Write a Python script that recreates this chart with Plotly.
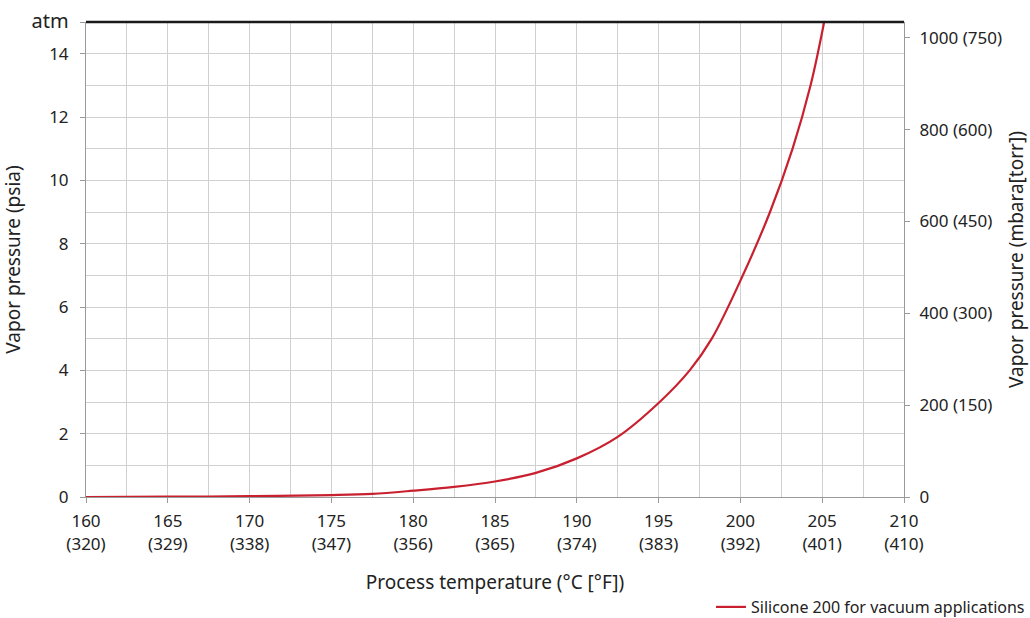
import plotly.graph_objects as go

# Data
temp_c = [160, 165, 170, 175, 177.5, 180, 182.5, 185, 187.5, 190, 192.5, 195,
          196.9, 198.25, 200.15, 201.81, 203.19, 204.29, 205.12]
psia = [0.0, 0.01, 0.025, 0.06, 0.1, 0.2, 0.32, 0.49, 0.76, 1.22, 1.9, 2.97,
        4.0, 5.0, 7.0, 9.0, 11.0, 13.0, 15.0]

x_ticks = [160, 165, 170, 175, 180, 185, 190, 195, 200, 205, 210]
x_tick_f = [320, 329, 338, 347, 356, 365, 374, 383, 392, 401, 410]
x_minor = [162.5, 167.5, 172.5, 177.5, 182.5, 187.5, 192.5, 197.5, 202.5, 207.5]
y_ticks = [0, 2, 4, 6, 8, 10, 12, 14, 15]
y_labels = ["0", "2", "4", "6", "8", "10", "12", "14",
            "<span style='font-size:20px'>atm</span>"]
y_minor = [1, 3, 5, 7, 9, 11, 13]
mbar_ticks = [0, 200, 400, 600, 800, 1000]
mbar_labels = ["0", "200 (150)", "400 (300)", "600 (450)", "800 (600)", "1000 (750)"]

PSI_TO_MBAR = 68.9476
y_max = 15

FONT = "Noto Sans"
TXT = "#222222"
GRID = "#d0d0d0"
AX = "#9a9a9a"
RED = "#c8202f"

fig = go.Figure()
fig.add_trace(go.Scatter(
    x=temp_c, y=psia, mode="lines", name="Silicone 200 for vacuum applications",
    line=dict(color=RED, width=2.2, shape="spline", smoothing=1.0),
    cliponaxis=True,
))
# invisible trace to activate right axis
fig.add_trace(go.Scatter(x=[160], y=[0], yaxis="y2", mode="lines",
                         line=dict(color="rgba(0,0,0,0)"), showlegend=False,
                         hoverinfo="skip"))

fig.update_layout(
    width=1030, height=618,
    margin=dict(l=86, r=126, t=22, b=121, autoexpand=False),
    paper_bgcolor="white", plot_bgcolor="white",
    font=dict(family=FONT, size=17, color=TXT),
    showlegend=True,
    legend=dict(orientation="h", x=1.154, xanchor="right", y=-0.2316, yanchor="middle",
                font=dict(size=16, color=TXT), bgcolor="rgba(0,0,0,0)",
                itemwidth=30, tracegroupgap=0),
    xaxis=dict(
        range=[160, 210], tickmode="array", tickvals=x_ticks,
        ticktext=[f"{c}<br>({f})" for c, f in zip(x_ticks, x_tick_f)],
        showgrid=True, gridcolor=GRID, gridwidth=1,
        minor=dict(tickmode="array", tickvals=x_minor, showgrid=True, gridcolor=GRID, gridwidth=1),
        showline=True, linecolor=AX, linewidth=1,
        ticks="outside", ticklen=5, tickcolor=AX, ticklabelstandoff=4,
        tickfont=dict(size=17, color=TXT), zeroline=False, automargin=False,
        ticklabeloverflow="allow",
        title=dict(text="Process temperature (°C [°F])", font=dict(size=19, color=TXT), standoff=22),
    ),
    yaxis=dict(
        range=[0, y_max], tickmode="array", tickvals=y_ticks, ticktext=y_labels,
        showgrid=True, gridcolor=GRID, gridwidth=1,
        minor=dict(tickmode="array", tickvals=y_minor, showgrid=True, gridcolor=GRID, gridwidth=1),
        showline=True, linecolor=AX, linewidth=1,
        ticks="outside", ticklen=5, tickcolor=AX, ticklabelstandoff=8,
        tickfont=dict(size=17, color=TXT), zeroline=False, automargin=False,
        ticklabeloverflow="allow",
        title=dict(text="Vapor pressure (psia)", font=dict(size=19, color=TXT), standoff=10),
    ),
    yaxis2=dict(
        overlaying="y", side="right", range=[0, y_max * PSI_TO_MBAR],
        tickmode="array", tickvals=mbar_ticks, ticktext=mbar_labels,
        showgrid=False, showline=True, linecolor=AX, linewidth=1,
        ticks="outside", ticklen=5, tickcolor=AX, ticklabelstandoff=6,
        tickfont=dict(size=17, color=TXT), zeroline=False, automargin=False,
        ticklabeloverflow="allow",
        title=dict(text="Vapor pressure (mbara[torr])", font=dict(size=19, color=TXT), standoff=8),
    ),
)

# black "atm" line along the top of the plot (paper refs so it is not clipped)
fig.add_shape(type="line", xref="paper", yref="paper", x0=0, x1=1, y0=1, y1=1,
              line=dict(color="#1a1a1a", width=2.5), layer="above")

fig.write_html(
    "out.html",
    config={"displayModeBar": False},
    post_script="document.body.style.margin='0';document.body.style.overflow='hidden';",
)
